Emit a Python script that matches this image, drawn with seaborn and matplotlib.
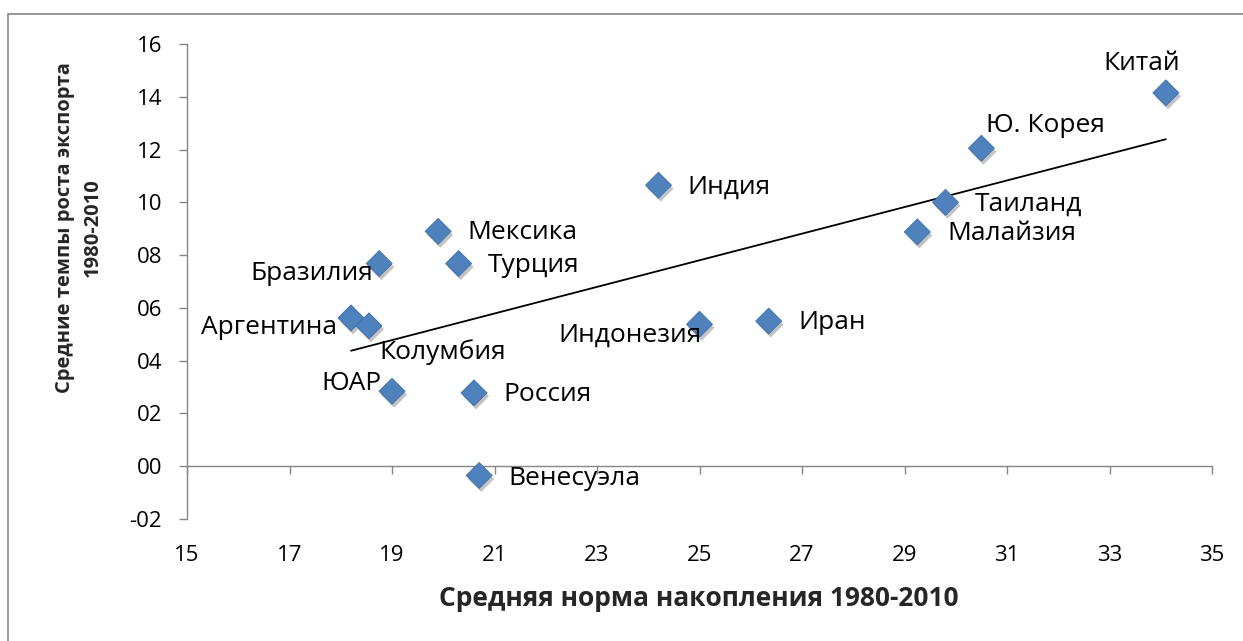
import numpy as np
import pandas as pd
import matplotlib
matplotlib.use("Agg")
import matplotlib.pyplot as plt
import matplotlib.patheffects as pe
from matplotlib.ticker import FuncFormatter
from matplotlib.patches import Rectangle
import seaborn as sns

# ---- data ----
countries = ["Китай", "Ю. Корея", "Таиланд", "Малайзия", "Индия", "Иран",
             "Индонезия", "Мексика", "Турция", "Бразилия", "Аргентина",
             "Колумбия", "ЮАР", "Россия", "Венесуэла"]
savings = [34.1, 30.5, 29.8, 29.25, 24.2, 26.35, 25.0, 19.9, 20.3, 18.75,
           18.2, 18.55, 19.0, 20.6, 20.7]
growth = [14.15, 12.05, 10.0, 8.88, 10.65, 5.5, 5.38, 8.9, 7.68, 7.68,
          5.62, 5.32, 2.84, 2.78, -0.35]
x_ticks = list(range(15, 36, 2))
y_ticks = list(range(-2, 17, 2))
x_title = "Средняя норма накопления 1980-2010"
y_title = "Средние темпы роста экспорта\n1980-2010"

# ---- label layout (pixel offsets from point, alignment) ----
label_layout = {
    "Китай": (-24, 29, "center"),
    "Ю. Корея": (5, 23, "left"),
    "Таиланд": (29, -2, "left"),
    "Малайзия": (30, -2, "left"),
    "Индия": (29, -2, "left"),
    "Иран": (30, -1, "left"),
    "Индонезия": (2, -11, "right"),
    "Мексика": (29, -1, "left"),
    "Турция": (29, -2, "left"),
    "Бразилия": (-6, -10, "right"),
    "Аргентина": (-14, -10, "right"),
    "Колумбия": (10, -26, "left"),
    "ЮАР": (-11, 8, "right"),
    "Россия": (29, -2, "left"),
    "Венесуэла": (29, -3, "left"),
}

sns.set_theme(style="white")
plt.rcParams['font.family'] = ['Open Sans', 'DejaVu Sans']

W, H = 1243, 641
fig = plt.figure(figsize=(W / 100, H / 100), dpi=100)
fig.patch.set_facecolor("white")
ax = fig.add_axes([187 / W, 1 - 519 / H, (1212 - 187) / W, (519 - 44) / H])

df = pd.DataFrame({"country": countries, "savings": savings, "growth": growth})

sns.regplot(data=df, x="savings", y="growth", scatter=False, ci=None,
            color="black", line_kws={"lw": 1.3}, ax=ax)
sns.scatterplot(data=df, x="savings", y="growth", marker="D", s=175,
                color="#4F81BD", edgecolor="#3E6EAA", linewidth=0.6,
                ax=ax, zorder=3, legend=False)
coll = ax.collections[-1]
coll.set_path_effects([pe.SimplePatchShadow(offset=(1.5, -2.5), alpha=0.35,
                                            shadow_rgbFace="#555555"),
                       pe.Normal()])

gray = "#868686"
ax.set_xlim(15, 35)
ax.set_ylim(-2, 16)
for s in ["top", "right", "bottom"]:
    ax.spines[s].set_visible(False)
ax.spines["left"].set_color(gray)
ax.spines["left"].set_linewidth(1.0)

ax.set_yticks(y_ticks)
ax.yaxis.set_major_formatter(FuncFormatter(
    lambda v, p: f"{int(round(v)):03d}" if v < 0 else f"{int(round(v)):02d}"))
ax.tick_params(axis="y", direction="out", length=6, width=1, color=gray,
               pad=12, labelsize=16, labelcolor="black", left=True)
ax.set_xticks(x_ticks)
ax.tick_params(axis="x", length=0, pad=19, labelsize=16, labelcolor="black")
ax.set_xlabel("")
ax.set_ylabel("")

sec = ax.secondary_xaxis(0, transform=ax.transData)
sec.set_xticks(x_ticks)
sec.tick_params(axis="x", direction="out", length=6, width=1, color=gray,
                labelbottom=False, labeltop=False)
for s in sec.spines.values():
    s.set_color(gray)
    s.set_linewidth(1.0)

for c, xv, yv in zip(countries, savings, growth):
    dx, dy, ha = label_layout[c]
    ax.annotate(c, (xv, yv), xytext=(dx * 0.72, dy * 0.72),
                textcoords="offset points", ha=ha, va="center",
                fontsize=19, color="black", zorder=4)

fig.text(699 / W, 1 - 599 / H, x_title, ha="center", va="center",
         fontsize=19, fontweight="bold")
fig.text(79 / W, 1 - 228 / H, y_title, ha="center", va="center",
         rotation=90, fontsize=14.5, fontweight="bold",
         multialignment="center", linespacing=1.55)

fig.add_artist(Rectangle((8 / W, -0.1), 1.1, 1 - 14 / H + 0.1,
                         transform=fig.transFigure, fill=False,
                         edgecolor=gray, linewidth=1.2))

fig.savefig("out.png", dpi=100)
